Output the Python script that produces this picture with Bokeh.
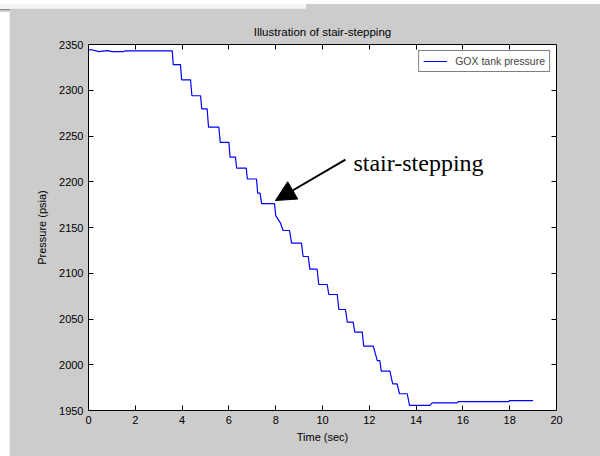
from bokeh.plotting import figure
from bokeh.models import (Range1d, LinearAxis, FixedTicker, Arrow, NormalHead, Label,
                          Div, Spacer, ColumnDataSource)
from bokeh.layouts import column, row
from bokeh.embed import file_html
from bokeh.resources import INLINE

# ---- data ----
time_sec = [0.0, 0.1, 0.44, 0.8, 1.01, 1.5, 1.57, 3.58,
            3.62, 3.93, 3.98, 4.36, 4.42, 4.79, 4.84, 5.07, 5.13, 5.57, 5.63, 6.0, 6.05,
            6.28, 6.33, 6.74, 6.79, 7.18, 7.23, 7.33, 7.40, 7.95,
            8.0, 8.2, 8.32, 8.59, 8.68, 9.10, 9.17, 9.39, 9.46, 9.77, 9.84, 10.20, 10.27,
            10.63, 10.70, 10.98, 11.06, 11.31, 11.38, 11.70, 11.76, 12.17, 12.34, 12.45,
            12.51, 12.88, 13.0, 13.19, 13.29, 13.62, 13.72, 14.59, 14.69, 15.75, 15.80,
            17.96, 18.0, 19.0]
pressure_psia = [2343.5, 2344.5, 2342.3, 2343.4, 2342.3, 2342.3, 2343, 2343,
                 2328, 2328, 2311.4, 2311.4, 2294, 2294, 2279.7, 2279.7, 2259.6, 2259.6,
                 2243, 2243, 2226.9, 2226.9, 2215, 2215, 2203, 2203, 2187.5, 2187.5,
                 2176, 2176,
                 2163, 2155, 2146.7, 2146.7, 2132.9, 2132.9, 2118.3, 2118.3, 2104.5,
                 2104.5, 2087.7, 2087.7, 2076.8, 2076.8, 2060.4, 2060.4, 2046.5, 2046.5,
                 2035.6, 2035.6, 2020.3, 2020.3, 2004.6, 2004.6, 1993, 1993, 1979.2,
                 1979.2, 1968.3, 1968.3, 1955.5, 1955.5, 1958.4, 1958.4, 1959.8, 1959.8,
                 1960.9, 1960.9]
x_ticks = [0, 2, 4, 6, 8, 10, 12, 14, 16, 18, 20]
y_ticks = [1950, 2000, 2050, 2100, 2150, 2200, 2250, 2300, 2350]
series_name = "GOX tank pressure"
chart_title = "Illustration of stair-stepping"
note_text = "stair-stepping"
note_xy = (11.32, 2221.0)
arrow_start = (10.98, 2224.3)
arrow_end = (7.99, 2179.5)

GRAY = "#cccccc"
FONT = "Liberation Sans"

p = figure(frame_width=468, frame_height=366,
           min_border_left=79, min_border_right=44, min_border_top=36, min_border_bottom=46,
           x_range=Range1d(0, 20), y_range=Range1d(1950, 2350),
           output_backend="svg", toolbar_location=None,
           title=chart_title)
p.border_fill_color = GRAY
p.background_fill_color = "white"
p.outline_line_color = "black"
p.outline_line_width = 1
p.xgrid.visible = False
p.ygrid.visible = False

p.title.align = "center"
p.title.text_font = FONT
p.title.text_font_size = "11.5px"
p.title.text_font_style = "normal"
p.title.text_color = "black"
p.title.standoff = 6

for ax, ticks in ((p.xaxis[0], x_ticks), (p.yaxis[0], y_ticks)):
    ax.ticker = FixedTicker(ticks=ticks)
    ax.major_tick_in = 5
    ax.major_tick_out = 0
    ax.minor_tick_line_color = None
    ax.axis_line_color = "black"
    ax.major_tick_line_color = "black"
    ax.major_label_text_font = FONT
    ax.major_label_text_font_size = "11px"
    ax.major_label_text_color = "black"
    ax.axis_label_text_font = FONT
    ax.axis_label_text_font_size = "11px"
    ax.axis_label_text_font_style = "normal"
    ax.axis_label_text_color = "black"

p.xaxis.axis_label = "Time (sec)"
p.yaxis.axis_label = "Pressure (psia)"
p.xaxis.major_label_standoff = 5
p.yaxis.major_label_standoff = 5
p.xaxis.axis_label_standoff = 4
p.yaxis.axis_label_standoff = 8

# box axes on the top and right with inward ticks, labels hidden in the gray border
for ticks, side in ((y_ticks, "right"), (x_ticks, "above")):
    extra = LinearAxis(ticker=FixedTicker(ticks=ticks),
                       major_tick_in=5, major_tick_out=0,
                       minor_tick_line_color=None,
                       major_label_text_font_size="1px",
                       major_label_text_color=GRAY,
                       major_label_standoff=0,
                       axis_line_color="black")
    p.add_layout(extra, side)

src = ColumnDataSource(dict(t=time_sec, p=pressure_psia))
p.line("t", "p", source=src, line_color="#0000ff", line_width=1.2,
       legend_label=series_name)

lg = p.legend[0]
lg.location = "top_right"
lg.margin = 6
lg.padding = 4
lg.spacing = 0
lg.border_line_color = "black"
lg.border_line_width = 1
lg.background_fill_color = "white"
lg.background_fill_alpha = 1
lg.label_text_font = FONT
lg.label_text_font_size = "10.5px"
lg.glyph_width = 24
lg.glyph_height = 12
lg.label_standoff = 8

p.add_layout(Arrow(end=NormalHead(size=20, fill_color="black", line_color="black"),
                   x_start=arrow_start[0], y_start=arrow_start[1],
                   x_end=arrow_end[0], y_end=arrow_end[1],
                   line_color="black", line_width=2))
p.add_layout(Label(x=note_xy[0], y=note_xy[1], text=note_text,
                   text_font="Liberation Serif", text_font_size="24px",
                   text_color="black", text_baseline="alphabetic"))

top_strip = Div(text='<div style="position:relative;width:600px;height:8px;background:#cccccc;">'
                     '<div style="position:absolute;left:0;top:0;width:306px;height:6px;'
                     'background:#f4f4f4;border-bottom:1px solid #7f7f7f;"></div></div>',
                width=600, height=8, margin=0)
left_strip = Spacer(width=9, height=448, margin=0)

layout = column(top_strip, row(left_strip, p, margin=0), margin=0)

open("out.html", "w").write(file_html(layout, INLINE))
